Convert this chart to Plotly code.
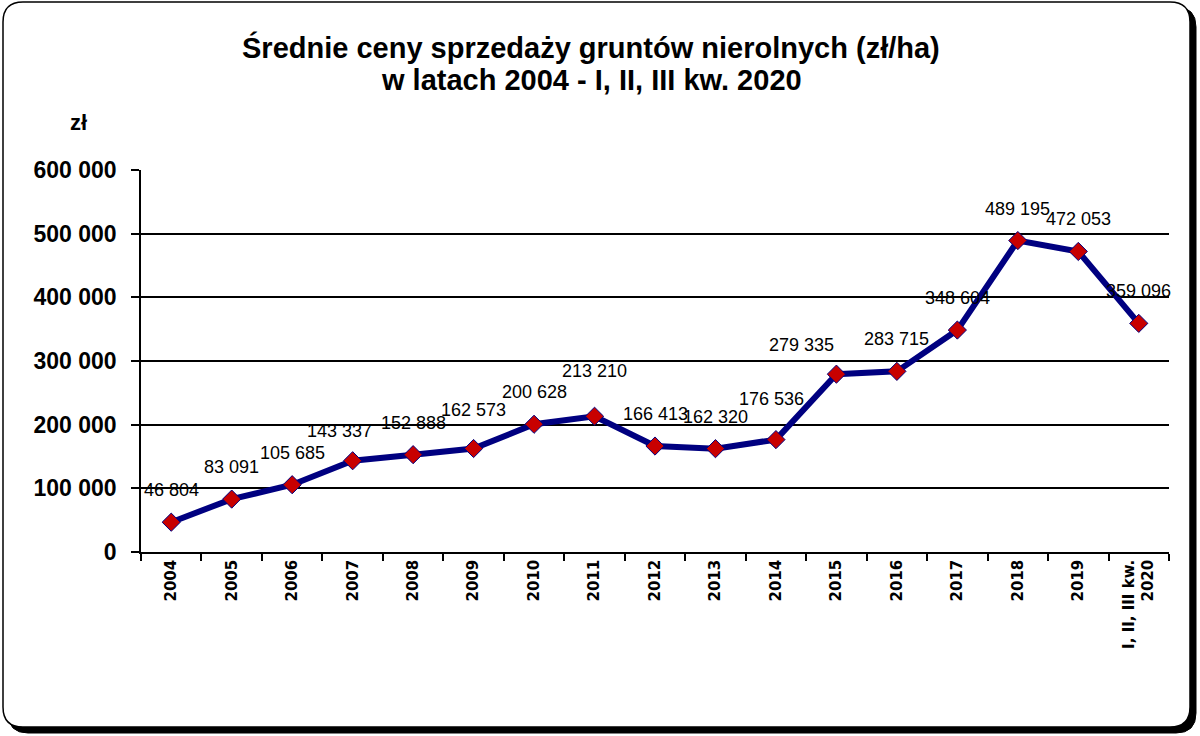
import plotly.graph_objects as go

# ---- data ----
categories = ["2004", "2005", "2006", "2007", "2008", "2009", "2010", "2011",
              "2012", "2013", "2014", "2015", "2016", "2017", "2018", "2019",
              "I, II, III kw.<br>2020"]
prices = [46804, 83091, 105685, 143337, 152888, 162573, 200628, 213210,
          166413, 162320, 176536, 279335, 283715, 348604, 489195, 472053, 359096]
y_tick_vals = [0, 100000, 200000, 300000, 400000, 500000, 600000]
y_tick_text = ["0", "100 000", "200 000", "300 000", "400 000", "500 000", "600 000"]
title_lines = ["Średnie ceny sprzedaży gruntów nierolnych (zł/ha)",
               "w latach 2004 - I, II, III kw. 2020"]
unit_text = "zł"

# ---- layout geometry (pixels) ----
W_PX, H_PX = 1200, 736
L, R, T, B = 141, 1169, 170, 552
PW, PH = R - L, B - T
FONT = "Liberation Sans, Arial, sans-serif"


def px_x(px):
    return (px - L) / PW


def px_y(py):
    return (B - py) / PH


def rounded_rect(x0, y0, x1, y1, r):
    rx, ry = r / PW, r / PH
    X0, X1 = px_x(x0), px_x(x1)
    Y0, Y1 = px_y(y0), px_y(y1)  # Y0 top, Y1 bottom
    return (f"M {X0+rx} {Y0} L {X1-rx} {Y0} Q {X1} {Y0} {X1} {Y0-ry} "
            f"L {X1} {Y1+ry} Q {X1} {Y1} {X1-rx} {Y1} "
            f"L {X0+rx} {Y1} Q {X0} {Y1} {X0} {Y1+ry} "
            f"L {X0} {Y0-ry} Q {X0} {Y0} {X0+rx} {Y0} Z")


fig = go.Figure()
fig.add_trace(go.Scatter(
    x=categories, y=prices, mode="lines+markers",
    line=dict(color="#000080", width=6),
    marker=dict(symbol="diamond", size=14, color="#C80000",
                line=dict(color="#000080", width=1)),
    hoverinfo="skip", showlegend=False,
))

# data labels (x given as category index)
label_nudge = {3: (-13, 30), 5: (0, 39), 7: (0, 45), 10: (-4, 41), 11: (-35, 29)}
annotations = []
for i, v in enumerate(prices):
    dx, dy = label_nudge.get(i, (0, 32))
    annotations.append(dict(
        x=i, y=v, xref="x", yref="y", text=f"{v:,}".replace(",", " "),
        showarrow=False, xanchor="center", yanchor="middle",
        xshift=dx, yshift=dy,
        font=dict(family=FONT, size=18, color="black"),
    ))
annotations.append(dict(
    x=px_x(78), y=px_y(122), xref="paper", yref="paper", text=unit_text,
    showarrow=False, xanchor="center", yanchor="middle",
    font=dict(family=FONT, size=22, color="black", weight="bold"),
))
for line, ypx in zip(title_lines, [47, 80]):
    annotations.append(dict(
        x=px_x(591), y=px_y(ypx), xref="paper", yref="paper", text=line,
        showarrow=False, xanchor="center", yanchor="middle",
        font=dict(family=FONT, size=29, color="black", weight="bold"),
    ))

shapes = [
    dict(type="path", xref="paper", yref="paper", layer="below",
         path=rounded_rect(8, 7, 1196, 733, 20),
         fillcolor="black", line=dict(color="black", width=1)),
    dict(type="path", xref="paper", yref="paper", layer="below",
         path=rounded_rect(3, 2, 1190, 727, 20),
         fillcolor="white", line=dict(color="black", width=1.5)),
]

fig.update_layout(
    width=W_PX, height=H_PX,
    margin=dict(l=L, r=W_PX - R, t=T, b=H_PX - B),
    paper_bgcolor="white", plot_bgcolor="rgba(0,0,0,0)",
    annotations=annotations, shapes=shapes,
    xaxis=dict(
        type="category", showgrid=False, showline=True, linecolor="black",
        linewidth=1.5, ticks="outside", tickson="boundaries", ticklen=7,
        tickcolor="black", tickwidth=1.5, tickangle=-90,
        tickfont=dict(family="DejaVu Sans, sans-serif", size=15, color="black",
                      weight="bold"),
        range=[-0.5, len(categories) - 0.5], fixedrange=True,
    ),
    yaxis=dict(
        range=[0, 600000], tickvals=y_tick_vals, ticktext=y_tick_text,
        showgrid=True, gridcolor="black", gridwidth=1.5,
        showline=True, linecolor="black", linewidth=1.5,
        ticks="outside", ticklen=8, tickcolor="black", tickwidth=1.5,
        ticklabelstandoff=10, zeroline=False,
        tickfont=dict(family=FONT, size=23, color="black", weight="bold"),
        fixedrange=True,
    ),
)

fig.write_html("out.html")
